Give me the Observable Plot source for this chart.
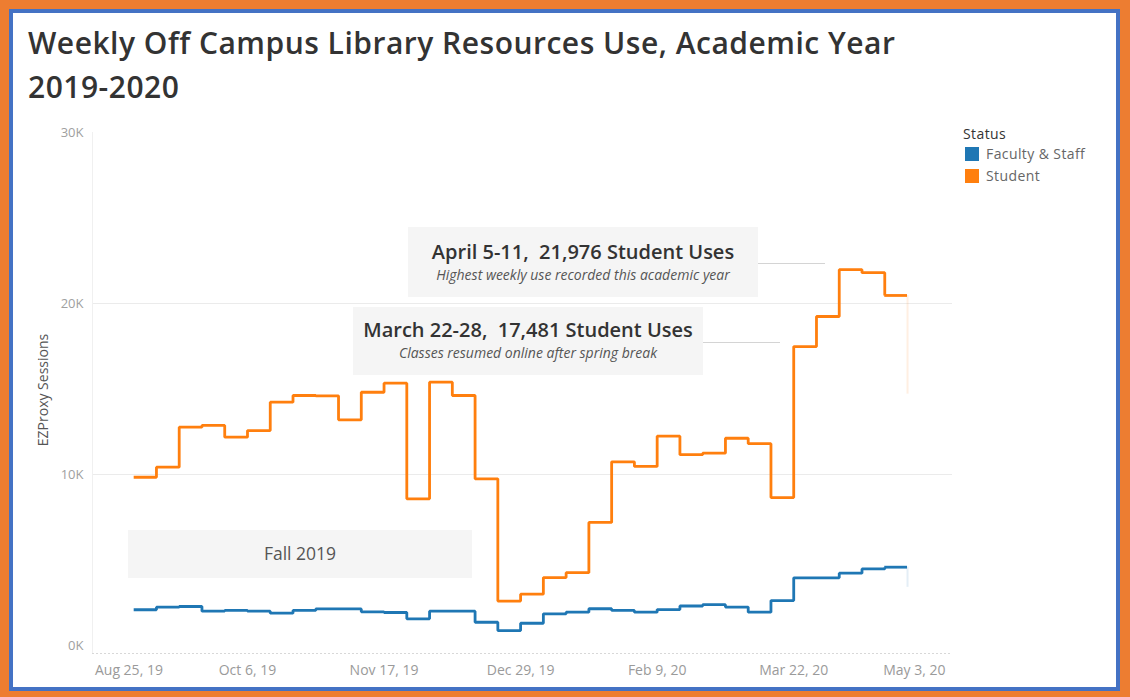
<!DOCTYPE html>
<html>
<head>
<meta charset="utf-8">
<script src="https://cdn.jsdelivr.net/npm/d3@7"></script>
<script src="https://cdn.jsdelivr.net/npm/@observablehq/plot@0.6"></script>
<style>
  body { margin: 0; background: #fff; font-family: "Open Sans", sans-serif; }
  #page { position: relative; width: 1130px; height: 697px; overflow: hidden; background: #fff; }
  .abs { position: absolute; }
  .border-o { left: 0; top: 0; width: 1130px; height: 697px; box-sizing: border-box; border-style: solid; border-color: #ED7D31; border-width: 9px 10px 6px 9px; pointer-events: none; }
  .border-b { left: 9px; top: 9px; width: 1111px; height: 682px; box-sizing: border-box; border: 4px solid #4472C4; pointer-events: none; }
  #title { left: 28px; top: 21px; font-size: 30px; font-weight: 600; line-height: 44px; letter-spacing: 0.5px; color: #333; white-space: nowrap; }
  #chart { left: 12px; top: 115px; }
  .legend-title { left: 963px; top: 126px; font-size: 14px; letter-spacing: 0.4px; line-height: 16px; color: #333; }
  .legend-item { left: 986px; font-size: 14px; letter-spacing: 0.4px; line-height: 16px; color: #666; white-space: nowrap; }
  .swatch { left: 965px; width: 14px; height: 14px; }
  .box { background: #f5f5f5; }
  .box .t { position: absolute; left: 0; width: 100%; text-align: center; white-space: pre; color: #333; font-weight: 600; }
  .box .s { position: absolute; left: 0; width: 100%; text-align: center; white-space: pre; color: #555; font-style: italic; }
  .conn { height: 1px; background: #d4d4d4; }
  #ytitle { left: 42px; top: 390px; transform: translate(-50%, -50%) rotate(-90deg); font-size: 14px; color: #555; white-space: nowrap; }
</style>
</head>
<body>
<div id="page">
  <div id="title" class="abs">Weekly Off Campus Library Resources Use, Academic Year<br>2019-2020</div>
  <div id="chart" class="abs"></div>
  <div id="ytitle" class="abs">EZProxy Sessions</div>

  <div class="abs legend-title">Status</div>
  <div class="abs swatch" style="top:147px;background:#1F77B4"></div>
  <div class="abs legend-item" style="top:146px">Faculty &amp; Staff</div>
  <div class="abs swatch" style="top:169px;background:#FF7F0E"></div>
  <div class="abs legend-item" style="top:168px">Student</div>

  <div class="abs conn" style="left:758px;top:263px;width:67px"></div>
  <div class="abs box" style="left:408px;top:227px;width:350px;height:70px">
    <div class="t" style="top:13px;font-size:20px;line-height:24px">April 5-11,  21,976 Student Uses</div>
    <div class="s" style="top:40px;font-size:14px;line-height:16px">Highest weekly use recorded this academic year</div>
  </div>

  <div class="abs conn" style="left:703px;top:342px;width:77px"></div>
  <div class="abs box" style="left:353px;top:307px;width:350px;height:68px">
    <div class="t" style="top:11px;font-size:20px;line-height:24px">March 22-28,  17,481 Student Uses</div>
    <div class="s" style="top:38px;font-size:14px;line-height:16px">Classes resumed online after spring break</div>
  </div>

  <div class="abs box" style="left:128px;top:530px;width:344px;height:48px">
    <div class="s" style="top:13px;font-size:17.5px;line-height:20px;font-style:normal">Fall 2019</div>
  </div>

  <div class="abs border-o"></div>
  <div class="abs border-b"></div>
</div>
<script>
// Week start dates (Sunday), academic year 2019-2020
const weeks = [
  "2019-09-01","2019-09-08","2019-09-15","2019-09-22","2019-09-29",
  "2019-10-06","2019-10-13","2019-10-20","2019-10-27",
  "2019-11-03","2019-11-10","2019-11-17","2019-11-24",
  "2019-12-01","2019-12-08","2019-12-15","2019-12-22","2019-12-29",
  "2020-01-05","2020-01-12","2020-01-19","2020-01-26",
  "2020-02-02","2020-02-09","2020-02-16","2020-02-23",
  "2020-03-01","2020-03-08","2020-03-15","2020-03-22","2020-03-29",
  "2020-04-05","2020-04-12","2020-04-19","2020-04-26"
];
// EZProxy sessions per week
const student = [
  9840, 10430, 12770, 12870, 12180,
  12570, 14230, 14620, 14600,
  13200, 14810, 15340, 8580,
  15400, 14620, 9750, 2600, 3000,
  3970, 4260, 7200, 10740,
  10470, 12240, 11160, 11250,
  12120, 11800, 8650, 17481, 19240,
  21976, 21800, 20470, 14700
];
const faculty = [
  2090, 2240, 2280, 2010, 2050,
  2010, 1890, 2050, 2140,
  2140, 1970, 1930, 1560,
  2010, 2010, 1360, 870, 1300,
  1850, 1950, 2150, 2050,
  1950, 2100, 2310, 2390,
  2250, 1950, 2630, 3960, 3960,
  4230, 4480, 4580, 3400
];
const statuses = ["Faculty & Staff", "Student"];
const colors = ["#1F77B4", "#FF7F0E"];
const xTicks = ["2019-08-25","2019-10-06","2019-11-17","2019-12-29","2020-02-09","2020-03-22","2020-05-03"];
const yTicks = [0, 10000, 20000, 30000];

const rows = [];
weeks.forEach((w, i) => {
  rows.push({date: new Date(w), status: "Faculty & Staff", value: faculty[i], i});
  rows.push({date: new Date(w), status: "Student", value: student[i], i});
});
const n = weeks.length;
const solid = rows.filter(d => d.i < n - 1);
const lastFull = rows.filter(d => d.i === n - 2);
const lastWeek = rows.filter(d => d.i === n - 1);
const nextDate = new Date(weeks[n - 1]);
const prevVal = s => (s === "Student" ? student[n - 2] : faculty[n - 2]);

const tickDates = xTicks.map(s => new Date(s));
const fmt = d3.utcFormat("%b %-d, %y");
const axisStyle = {tickSize: 0, tickPadding: 12, tickFormat: fmt, fontSize: 14, letterSpacing: 0.3, color: "#9a9a9a", label: null};

const chart = Plot.plot({
  width: 948,
  height: 570,
  marginLeft: 80,
  marginRight: 8,
  marginTop: 17,
  marginBottom: 32,
  style: {background: "transparent", fontFamily: "Open Sans", overflow: "visible"},
  x: {type: "utc", domain: [new Date(Date.UTC(2019, 7, 19, 8)), new Date(Date.UTC(2020, 4, 9, 20))]},
  y: {domain: [0, 30000], range: [530, 17]},
  color: {domain: statuses, range: colors},
  marks: [
    Plot.gridY([10000, 20000], {stroke: "#ebebeb", strokeOpacity: 1}),
    Plot.frame({anchor: "left", stroke: "#f0f0f0"}),
    Plot.frame({anchor: "bottom", stroke: "#d8d8d8", strokeDasharray: "1,3"}),
    Plot.axisY(yTicks, {tickSize: 0, tickPadding: 9, tickFormat: d => `${d / 1000}K`, fontSize: 13, color: "#a0a0a0", label: null}),
    Plot.axisX(tickDates.slice(1, -1), axisStyle),
    Plot.axisX(tickDates.slice(0, 1), {...axisStyle, dx: 18}),
    Plot.axisX(tickDates.slice(-1), {...axisStyle, dx: -16}),
    Plot.line(solid, {x: "date", y: "value", z: "status", stroke: "status", curve: "step-after", strokeWidth: 2.8, strokeLinejoin: "miter", strokeLinecap: "butt"}),
    Plot.ruleY(lastFull, {x1: "date", x2: () => nextDate, y: "value", stroke: "status", strokeWidth: 2.8}),
    Plot.ruleX(lastWeek, {x: "date", y1: d => prevVal(d.status), y2: "value", stroke: "status", strokeWidth: 2, strokeOpacity: 0.12})
  ]
});
document.getElementById("chart").appendChild(chart);
</script>
</body>
</html>
